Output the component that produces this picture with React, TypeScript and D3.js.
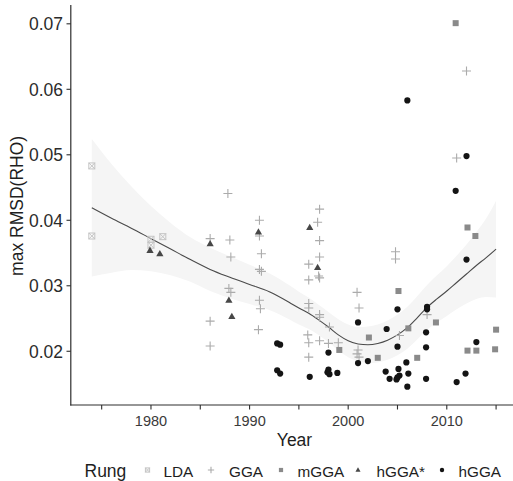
import React from "react";
import * as d3 from "d3";

// Max RMSD(RHO) of density functionals by publication year, grouped by rung
const ldaPoints: [number, number][] = [
  [1974.0, 0.0483], [1974.0, 0.0376], [1980.0, 0.0371], [1980.0, 0.0362], [1981.2, 0.0375],
];
const ggaPoints: [number, number][] = [
  [1986.0, 0.0372], [1986.0, 0.0246], [1986.0, 0.0208],
  [1987.8, 0.0441], [1988.0, 0.037], [1988.1, 0.0344], [1987.9, 0.0296], [1988.1, 0.029],
  [1991.0, 0.04], [1991.0, 0.0376], [1991.2, 0.0349], [1991.0, 0.0325], [1991.2, 0.0322],
  [1991.0, 0.0278], [1991.1, 0.0265], [1990.9, 0.0233],
  [1997.1, 0.0417], [1996.9, 0.0397], [1997.1, 0.0369], [1997.1, 0.0344], [1996.0, 0.0333],
  [1996.0, 0.0309], [1997.0, 0.0315], [1997.1, 0.0312], [1996.0, 0.0273], [1996.0, 0.0266],
  [1997.1, 0.0256], [1997.1, 0.0252], [1995.9, 0.0225], [1996.0, 0.0213], [1996.0, 0.0191],
  [1997.1, 0.0216], [1998.1, 0.0237], [1998.0, 0.0212], [1999.0, 0.0213],
  [2000.9, 0.029], [2001.1, 0.0266], [2001.0, 0.0202], [2000.9, 0.0196], [2001.1, 0.0191],
  [2004.8, 0.0352], [2004.8, 0.0341], [2005.2, 0.0224], [2008.0, 0.0256],
  [2011.0, 0.0495], [2012.0, 0.0628],
];
const mggaPoints: [number, number][] = [
  [1999.1, 0.0202], [2002.1, 0.0221], [2003.0, 0.019], [2005.1, 0.0292], [2006.1, 0.0235],
  [2007.0, 0.019], [2008.9, 0.0244], [2010.9, 0.0701], [2012.1, 0.0389], [2012.9, 0.0376],
  [2012.1, 0.0201], [2013.0, 0.0201], [2015.0, 0.0233], [2014.9, 0.0203],
];
const hggaStarPoints: [number, number][] = [
  [1979.9, 0.0354], [1980.9, 0.0349], [1986.0, 0.0364], [1987.9, 0.0278], [1988.2, 0.0253],
  [1990.9, 0.0382], [1996.1, 0.0389], [1996.9, 0.0328],
];
const hggaPoints: [number, number][] = [
  [1992.8, 0.0212], [1993.1, 0.021], [1992.8, 0.0171], [1993.1, 0.0166],
  [1996.1, 0.0161],
  [1998.0, 0.0198], [1998.0, 0.0172], [1997.9, 0.0168], [1998.1, 0.0165], [1998.9, 0.0167],
  [2001.0, 0.0244], [2001.0, 0.0182], [2002.0, 0.0185],
  [2003.9, 0.0234], [2003.8, 0.0169], [2004.2, 0.0158],
  [2005.0, 0.0264], [2005.0, 0.0207], [2005.1, 0.0173], [2005.2, 0.0163], [2005.0, 0.016],
  [2004.9, 0.0157],
  [2006.0, 0.0583], [2005.9, 0.0183], [2006.1, 0.0166], [2006.0, 0.0146],
  [2008.0, 0.0268], [2008.0, 0.0264], [2007.9, 0.0229], [2007.9, 0.0206], [2007.9, 0.0158],
  [2010.9, 0.0445], [2011.0, 0.0153],
  [2012.0, 0.0498], [2012.0, 0.034], [2011.9, 0.0166],
  [2013.0, 0.0214],
];

// Smoothed trend with its confidence half-width
const smoothYears = [
  1974, 1976, 1978, 1980, 1982, 1984, 1986, 1988, 1990, 1992, 1994, 1995, 1996, 1997, 1998,
  1999, 2000, 2001, 2002, 2003, 2004, 2005, 2006, 2007, 2008, 2009, 2010, 2011, 2012, 2013,
  2014, 2015,
];
const smoothFit = [
  0.0419, 0.0403, 0.0388, 0.0372, 0.0356, 0.034, 0.0325, 0.0313, 0.0302, 0.0291, 0.0275,
  0.0266, 0.0258, 0.0248, 0.0237, 0.0225, 0.0216, 0.0211, 0.021, 0.0212, 0.0217, 0.0225,
  0.0236, 0.0251, 0.0267, 0.028, 0.0292, 0.0305, 0.0318, 0.0331, 0.0343, 0.0356,
];
const smoothHalfWidth = [
  0.0105, 0.0083, 0.0064, 0.005, 0.004, 0.0034, 0.0033, 0.0032, 0.003, 0.0028, 0.0026,
  0.0025, 0.0024, 0.0023, 0.0023, 0.0024, 0.0025, 0.0026, 0.0028, 0.0029, 0.003, 0.0031,
  0.0032, 0.0033, 0.0034, 0.0036, 0.0038, 0.0041, 0.0045, 0.0051, 0.006, 0.0074,
];

const xTicks = [1975, 1980, 1985, 1990, 1995, 2000, 2005, 2010, 2015];
const xLabels = [1980, 1990, 2000, 2010];
const yTicks = [0.02, 0.03, 0.04, 0.05, 0.06, 0.07];
const rungNames = ["LDA", "GGA", "mGGA", "hGGA*", "hGGA"];

const W = 513;
const H = 481;
const FONT = "'Liberation Sans', Arial, sans-serif";

const x = d3.scaleLinear().domain([1971.95, 2017.05]).range([71.6, 516.3]);
const y = d3.scaleLinear().domain([0.01172, 0.07278]).range([405.5, 5.6]);

const colors: Record<string, string> = {
  LDA: "#c4c4c4",
  GGA: "#ababab",
  mGGA: "#8a8a8a",
  "hGGA*": "#474747",
  hGGA: "#141414",
};

function Marker({ rung, cx, cy, s = 1 }: { rung: string; cx: number; cy: number; s?: number }) {
  const c = colors[rung];
  if (rung === "LDA") {
    const h = 3 * s;
    return (
      <g stroke={c} strokeWidth={1} fill="none">
        <rect x={cx - h} y={cy - h} width={2 * h} height={2 * h} />
        <path d={`M${cx - h},${cy - h}L${cx + h},${cy + h}M${cx - h},${cy + h}L${cx + h},${cy - h}`} />
      </g>
    );
  }
  if (rung === "GGA") {
    const h = 4.5 * s;
    return (
      <path d={`M${cx - h},${cy}L${cx + h},${cy}M${cx},${cy - h}L${cx},${cy + h}`} stroke={c} strokeWidth={1.1} />
    );
  }
  if (rung === "mGGA") {
    const h = 3 * s;
    return <rect x={cx - h} y={cy - h} width={2 * h} height={2 * h} fill={c} />;
  }
  if (rung === "hGGA*") {
    const h = 3.8 * s;
    return (
      <path d={`M${cx},${cy - h}L${cx + h * 0.95},${cy + h * 0.65}L${cx - h * 0.95},${cy + h * 0.65}Z`} fill={c} />
    );
  }
  return <circle cx={cx} cy={cy} r={3.1 * s} fill={c} />;
}

export default function App() {
  const smooth = smoothYears.map((yr, i) => ({ yr, fit: smoothFit[i], hw: smoothHalfWidth[i] }));
  const band = d3
    .area<{ yr: number; fit: number; hw: number }>()
    .x((d) => x(d.yr))
    .y0((d) => y(d.fit - d.hw))
    .y1((d) => y(d.fit + d.hw))
    .curve(d3.curveMonotoneX)(smooth) as string;
  const line = d3
    .line<{ yr: number; fit: number }>()
    .x((d) => x(d.yr))
    .y((d) => y(d.fit))
    .curve(d3.curveMonotoneX)(smooth) as string;

  const series: [string, [number, number][]][] = [
    ["LDA", ldaPoints],
    ["GGA", ggaPoints],
    ["mGGA", mggaPoints],
    ["hGGA*", hggaStarPoints],
    ["hGGA", hggaPoints],
  ];

  const legendSymbolX = [147.5, 211, 281, 358, 442];
  const legendTextX = [163.5, 229, 297.5, 376.5, 458.5];

  return (
    <svg
      width={W}
      height={H}
      style={{ position: "absolute", left: 0, top: 0, background: "#fff" }}
      fontFamily={FONT}
    >
      <defs>
        <clipPath id="panel">
          <rect x={71} y={0} width={W - 71} height={406} />
        </clipPath>
      </defs>
      <g clipPath="url(#panel)">
        <path d={band} fill="#f5f5f5" />
        <path d={line} fill="none" stroke="#4a4a4a" strokeWidth={1.1} />
        {series.map(([rung, pts]) =>
          pts.map((p, i) => <Marker key={rung + i} rung={rung} cx={x(p[0])} cy={y(p[1])} />)
        )}
      </g>

      {/* axes */}
      <line x1={70.8} x2={70.8} y1={5} y2={405.5} stroke="#2e2e2e" strokeWidth={1.2} />
      <line x1={70.2} x2={W} y1={405} y2={405} stroke="#2e2e2e" strokeWidth={1.2} />
      {yTicks.map((t) => (
        <g key={t}>
          <line x1={66.5} x2={70.8} y1={y(t)} y2={y(t)} stroke="#2e2e2e" strokeWidth={1.1} />
          <text x={63} y={y(t)} dy="0.36em" textAnchor="end" fontSize={17.5} fill="#2b2b2b">
            {t.toFixed(2)}
          </text>
        </g>
      ))}
      {xTicks.map((t) => (
        <line key={t} x1={x(t)} x2={x(t)} y1={405} y2={409.5} stroke="#2e2e2e" strokeWidth={1.1} />
      ))}
      {xLabels.map((t) => (
        <text key={t} x={x(t)} y={426} textAnchor="middle" fontSize={14.5} fill="#3a3a3a">
          {t}
        </text>
      ))}
      <text x={294.5} y={445.5} textAnchor="middle" fontSize={17.5} fill="#1e1e1e">
        Year
      </text>
      <text
        transform={`translate(23,${y(0.0422)}) rotate(-90)`}
        textAnchor="middle"
        fontSize={17.5}
        fill="#1e1e1e"
      >
        max RMSD(RHO)
      </text>

      {/* legend */}
      <text x={84.5} y={476.5} fontSize={17.5} fill="#1e1e1e">
        Rung
      </text>
      {rungNames.map((r, i) => (
        <g key={r}>
          <Marker rung={r} cx={legendSymbolX[i]} cy={470} s={0.7} />
          <text x={legendTextX[i]} y={476.5} fontSize={15.3} fill="#1e1e1e">
            {r}
          </text>
        </g>
      ))}
    </svg>
  );
}
